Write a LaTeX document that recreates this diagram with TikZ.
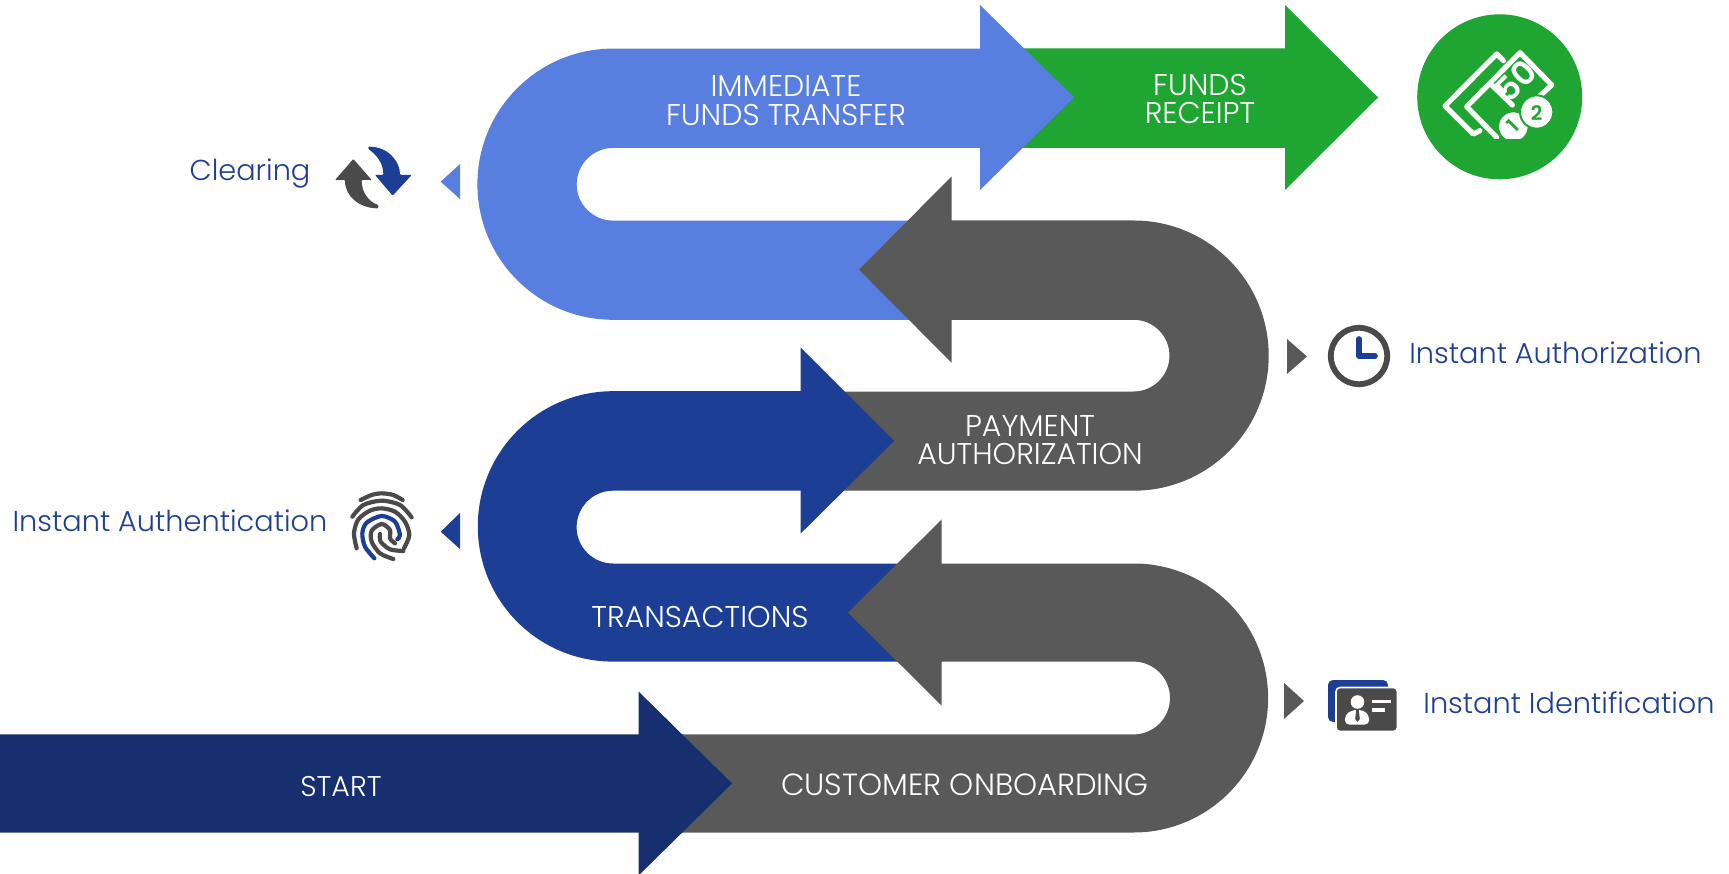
\documentclass[tikz,border=0pt]{standalone}
\usepackage{fontspec}
\setmainfont{Poppins}[UprightFont=* Light]
\newfontfamily\iconbold{Poppins}[UprightFont=* SemiBold]
\definecolor{navy}{HTML}{172F6E}
\definecolor{grayband}{HTML}{595959}
\definecolor{midblue}{HTML}{1C3E94}
\definecolor{lightblue}{HTML}{587FDF}
\definecolor{greenband}{HTML}{1FA531}
\definecolor{labelblue}{HTML}{1F3F93}
\definecolor{icongray}{HTML}{4A4A4A}
\tikzset{
  bandtext/.style={text=white,font=\fontsize{30}{28.5}\selectfont,align=center,inner sep=0pt},
  sidetext/.style={text=labelblue,font=\fontsize{28.8}{31}\selectfont,inner sep=0pt,anchor=base},
  cropscale/.style={x=0.3333pt,y=-0.3333pt},
  fprint/.style={draw=icongray,line width=4.2pt,line cap=round,line join=round},
  moneyline/.style={draw=white,line width=5.2pt,line cap=round,line join=round}
}
\begin{document}
\begin{tikzpicture}[x=1pt,y=-1pt]
\useasboundingbox (0,0) rectangle (1729,874);
% green arrow
\fill[greenband] (1000,48.5) -- (1285,48.5) -- (1285,5) -- (1378,97.5) -- (1285,190) -- (1285,148) -- (1000,148) -- cycle;
% light blue U-arrow
\fill[lightblue] (930,319.8) -- (613,319.8) arc[start angle=90,end angle=270,radius=135.6] -- (980,48.6) -- (980,5) -- (1074,97.5) -- (980,190) -- (980,148) -- (613,148) arc[start angle=270,end angle=90,radius=36.3] -- (930,220.6) -- cycle;
% upper gray U-arrow
\fill[grayband] (820,490.7) -- (1133.6,490.7) arc[start angle=90,end angle=-90,radius=135.1] -- (951.6,220.5) -- (951.6,176.4) -- (859,269.7) -- (951.6,362.8) -- (951.6,319.8) -- (1133.6,319.8) arc[start angle=-90,end angle=90,radius=35.85] -- (820,391.5) -- cycle;
% mid blue U-arrow
\fill[midblue] (930,661.6) -- (613,661.6) arc[start angle=90,end angle=270,radius=135.2] -- (800.5,391.2) -- (800.5,347.4) -- (894,441) -- (800.5,533.7) -- (800.5,490.7) -- (613,490.7) arc[start angle=270,end angle=90,radius=36.4] -- (930,563.5) -- cycle;
% lower gray U-arrow
\fill[grayband] (660,832.5) -- (1133.6,832.5) arc[start angle=90,end angle=-90,radius=134.5] -- (941.7,563.5) -- (941.7,519.4) -- (848,612.6) -- (941.7,705.7) -- (941.7,661.6) -- (1133.6,661.6) arc[start angle=-90,end angle=90,radius=36.4] -- (660,734.4) -- cycle;
% start arrow
\fill[navy] (0,734.4) -- (638.5,734.4) -- (638.5,691.4) -- (732,783.5) -- (638.5,875.6) -- (638.5,832.5) -- (0,832.5) -- cycle;
% band labels
\node[bandtext] (immediate) at (786,100.5) {IMMEDIATE\\FUNDS TRANSFER};
\node[bandtext] (receipt) at (1200,99) {FUNDS\\RECEIPT};
\node[bandtext] (payment) at (1030,440) {PAYMENT\\AUTHORIZATION};
\node[bandtext] (transactions) at (700,616.5) {TRANSACTIONS};
\node[bandtext,font=\fontsize{28.5}{28.5}\selectfont] (startlabel) at (341,786.5) {START};
\node[bandtext,font=\fontsize{30.6}{28.5}\selectfont] (onboarding) at (965,784.5) {CUSTOMER ONBOARDING};
% side labels
\node[sidetext] (clearing) at (250,181) {Clearing};
\node[sidetext] (authentication) at (170,531) {Instant Authentication};
\node[sidetext] (authorization) at (1555.5,363) {Instant Authorization};
\node[sidetext] (identification) at (1569,713) {Instant Identification};
% small triangles
\fill[lightblue] (440.7,181.7) -- (460,164) -- (460,199) -- cycle;
\fill[midblue] (440.7,531.7) -- (460,513) -- (460,549) -- cycle;
\fill[grayband] (1307,356.5) -- (1287,339) -- (1287,374) -- cycle;
\fill[grayband] (1304,701) -- (1284,683) -- (1284,719) -- cycle;
% money icon
\fill[greenband] (1499.7,96.8) circle[radius=82.5];
\begin{scope}[shift={(1435,40)},cropscale]
\clip (0,0) rectangle (390,295);
\draw[moneyline] (205,62) -- (185,42) -- (30,198) -- (115,282) -- (135,272);
\draw[moneyline] (310,172) -- (350,135) -- (255,38) -- (95,200) -- (185,292);
\draw[moneyline] (165,130) -- (232,195);
\node[rotate=45,text=white,font=\iconbold\fontsize{33}{33}\selectfont,inner sep=0pt] (fifty) at (243,122) {50};
\fill[white,draw=greenband,line width=2pt] (235,260) circle[radius=46];
\fill[white,draw=greenband,line width=2pt] (305,216) circle[radius=50];
\node[rotate=45,text=greenband,font=\iconbold\fontsize{20}{20}\selectfont,inner sep=0pt] (coinone) at (235,258) {1};
\node[text=greenband,font=\iconbold\fontsize{20}{20}\selectfont,inner sep=0pt] (cointwo) at (305,218) {2};
\end{scope}
% refresh icon
\begin{scope}[shift={(320,130)},cropscale]
\fill[icongray,rounded corners=1pt] (100,87) -- (155,150) -- (125,150) .. controls (125,185) and (145,215) .. (175,225) -- (175,235) .. controls (120,235) and (75,200) .. (75,150) -- (45,150) -- cycle;
\fill[midblue,rounded corners=1pt] (218,197) -- (275,135) -- (240,135) .. controls (240,95) and (205,50) .. (145,50) -- (145,57) .. controls (170,75) and (190,100) .. (190,135) -- (165,135) -- cycle;
\end{scope}
% fingerprint icon
\begin{scope}[shift={(340,480)},cropscale]
\draw[fprint] plot[smooth] coordinates {(62,60) (95,45) (125,40) (160,45) (188,60)};
\draw[fprint] plot[smooth] coordinates {(37,110) (70,75) (125,62) (180,75) (215,112)};
\draw[fprint] plot[smooth] coordinates {(50,205) (42,160) (55,118) (90,92) (125,85) (165,95) (195,125) (208,165) (192,205)};
\draw[fprint,draw=midblue] plot[smooth] coordinates {(103,235) (75,200) (67,160) (80,128) (125,108) (165,125) (180,165) (172,178)};
\draw[fprint] plot[smooth] coordinates {(160,237) (120,220) (95,185) (95,152) (125,132) (150,150) (150,175) (165,190)};
\draw[fprint] plot[smooth] coordinates {(190,213) (150,208) (122,185) (120,162)};
\end{scope}
% clock icon
\draw[icongray,line width=5.8pt] (1359,356) circle[radius=28.2];
\draw[midblue,line width=5.6pt,line cap=round,line join=round] (1359,339) -- (1359,356) -- (1375,356);
% id card icon
\fill[midblue,rounded corners=5pt] (1328,680) rectangle (1388,722);
\fill[icongray,draw=white,line width=1.6pt,rounded corners=4pt] (1336,687.5) rectangle (1397.5,731.5);
\fill[white] (1357.5,702) circle[radius=6.8];
\fill[white,rounded corners=4pt] (1345,724.5) -- (1345,715) -- (1352,710) -- (1363,710) -- (1369,715) -- (1369,724.5) -- cycle;
\fill[icongray] (1356.2,710) -- (1358.8,710) -- (1359.8,719) -- (1357.5,722) -- (1355.2,719) -- cycle;
\fill[white] (1372,699.5) rectangle (1391,702.5);
\fill[white] (1372,708) rectangle (1385,711.5);
\end{tikzpicture}
\end{document}
